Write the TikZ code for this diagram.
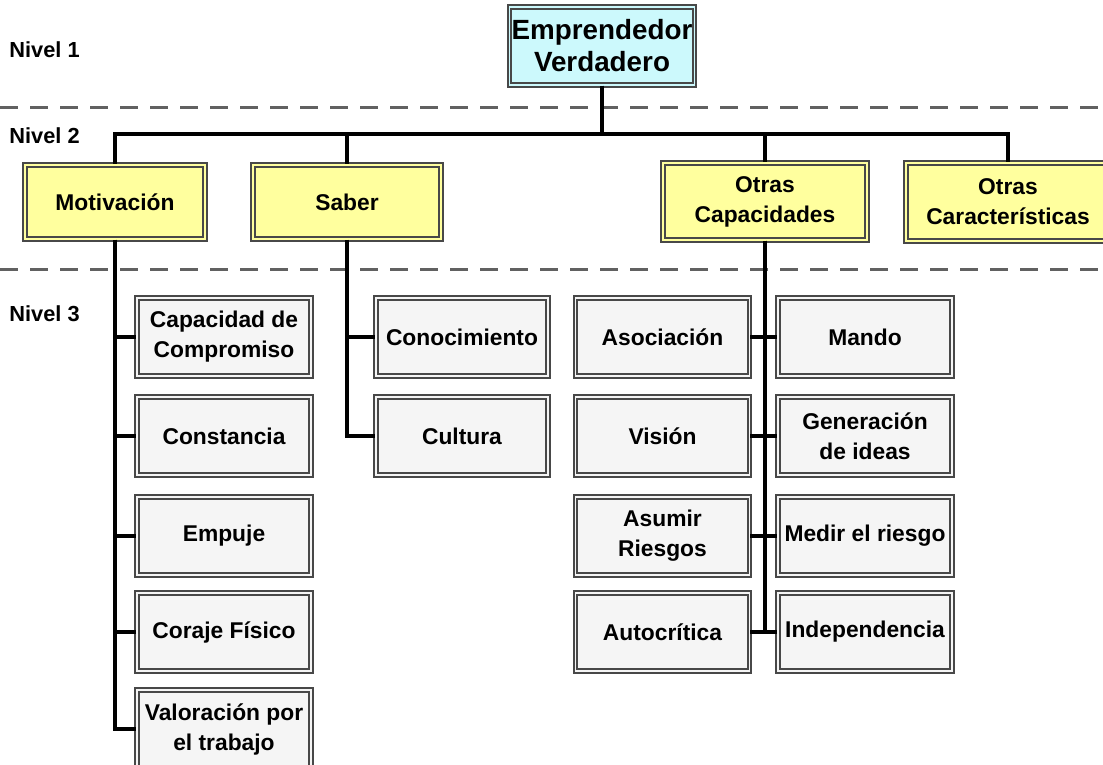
\documentclass[tikz,border=0pt]{standalone}
\usepackage{fontspec}
\setmainfont{Liberation Sans}
\usepackage{tikz}

\definecolor{cielo}{RGB}{204,249,252}
\definecolor{amarillo}{RGB}{255,255,158}
\definecolor{gris}{RGB}{245,245,245}
\definecolor{borde}{RGB}{72,72,72}

\tikzset{
  caja/.style={draw=borde, line width=0.9pt, double distance=0.9pt, inner sep=0pt,
    align=center, font=\bfseries\fontsize{11.4}{15}\selectfont},
  raiz/.style={caja, fill=cielo, double=cielo, minimum width=92.5pt, minimum height=39pt,
    font=\bfseries\fontsize{13.9}{16}\selectfont},
  rama/.style={caja, fill=amarillo, double=amarillo, minimum height=37pt},
  hoja/.style={caja, fill=gris, double=gris, minimum width=87pt, minimum height=39pt},
  nivel/.style={anchor=west, inner sep=0pt, font=\bfseries\fontsize{10.9}{13}\selectfont},
  lazo/.style={line width=2pt, black},
  corte/.style={draw=black!62, line width=1.5pt, dash pattern=on 9pt off 6pt}
}

\begin{document}
\begin{tikzpicture}[x=0.5pt, y=-0.5pt]
  \useasboundingbox (0,0) rectangle (1103,765);

  % niveles
  \node[nivel] (n1) at (9,50) {Nivel 1};
  \node[nivel] (n2) at (9,136) {Nivel 2};
  \node[nivel] (n3) at (9,314) {Nivel 3};
  \draw[corte] (0,108) -- (1103,108);
  \draw[corte] (0,269) -- (1103,269);

  % nivel 1
  \node[raiz] (ev) at (602,46) {Emprendedor\\Verdadero};
  \coordinate (bus) at (602,134);

  % nivel 2
  \node[rama, minimum width=90pt] (mot) at (115,202) {Motivación};
  \node[rama, minimum width=94pt] (sab) at (347,202) {Saber};
  \node[rama, minimum width=102pt, minimum height=38.5pt] (ocap) at (765,201.5) {Otras\\Capacidades};
  \node[rama, minimum width=102pt, minimum height=39pt] (ocar) at (1008,202) {Otras\\Características};

  \draw[lazo] (ev.south) -- (bus) -| (mot.north);
  \draw[lazo] (ev.south) -- (bus) -| (sab.north);
  \draw[lazo] (ev.south) -- (bus) -| (ocap.north);
  \draw[lazo] (ev.south) -- (bus) -| (ocar.north);

  % nivel 3: motivacion
  \node[hoja] (comp) at (224,337) {Capacidad de\\Compromiso};
  \node[hoja] (cons) at (224,436) {Constancia};
  \node[hoja] (emp) at (224,536) {Empuje};
  \node[hoja] (cor) at (224,632) {Coraje Físico};
  \node[hoja] (val) at (224,729) {Valoración por\\el trabajo};

  \draw[lazo] (mot.south) |- (comp.west);
  \draw[lazo] (mot.south) |- (cons.west);
  \draw[lazo] (mot.south) |- (emp.west);
  \draw[lazo] (mot.south) |- (cor.west);
  \draw[lazo] (mot.south) |- (val.west);

  % nivel 3: saber
  \node[hoja, minimum width=86pt] (cono) at (462,337) {Conocimiento};
  \node[hoja, minimum width=86pt] (cult) at (462,436) {Cultura};

  \draw[lazo] (sab.south) |- (cono.west);
  \draw[lazo] (sab.south) |- (cult.west);

  % nivel 3: otras capacidades
  \node[hoja] (asoc) at (662.5,337) {Asociación};
  \node[hoja] (vis) at (662.5,436) {Visión};
  \node[hoja] (asum) at (662.5,536) {Asumir\\Riesgos};
  \node[hoja] (auto) at (662.5,632) {Autocrítica};
  \node[hoja] (man) at (865,337) {Mando};
  \node[hoja] (gen) at (865,436) {Generación\\de ideas};
  \node[hoja] (med) at (865,536) {Medir el riesgo};
  \node[hoja] (ind) at (865,632) {Independencia};

  \draw[lazo] (ocap.south) |- (asoc.east);
  \draw[lazo] (ocap.south) |- (vis.east);
  \draw[lazo] (ocap.south) |- (asum.east);
  \draw[lazo] (ocap.south) |- (auto.east);
  \draw[lazo] (ocap.south) |- (man.west);
  \draw[lazo] (ocap.south) |- (gen.west);
  \draw[lazo] (ocap.south) |- (med.west);
  \draw[lazo] (ocap.south) |- (ind.west);
\end{tikzpicture}
\end{document}
